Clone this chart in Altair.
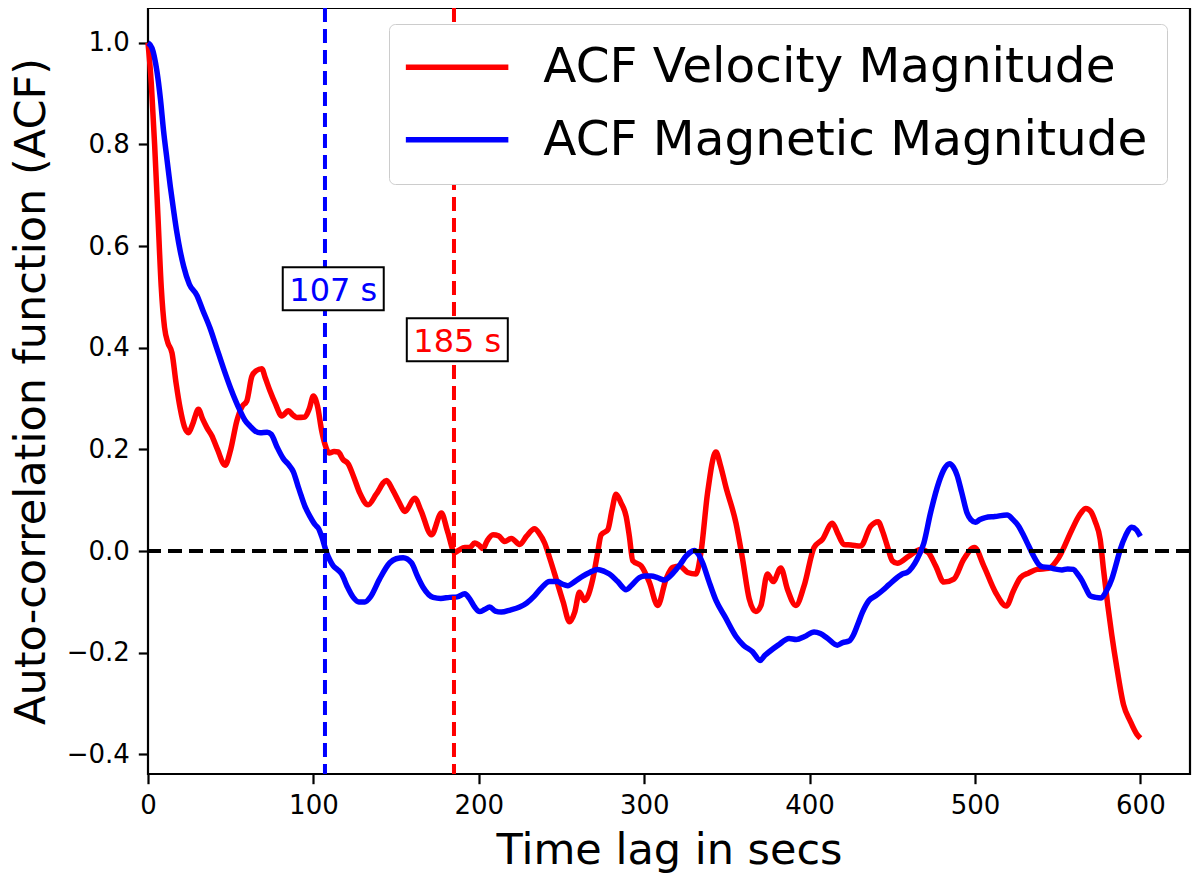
import altair as alt
import pandas as pd

# ---------------- data ----------------
series_names = ["ACF Velocity Magnitude", "ACF Magnetic Magnitude"]
series_colors = ["red", "blue"]

vel_x = [0, 2, 4, 6, 8, 10, 12, 14.5, 17, 19.5, 22, 24.5, 27, 30.5, 33, 35.6, 38.6, 42, 46.6, 50,
         53.7, 57, 59.7, 62.8, 65.5, 68.8, 71, 73.8, 77, 80.9, 84.9, 87.5, 89.9, 94.9, 97.5, 100,
         102.5, 105, 107, 109.6, 112.5, 115, 118, 121, 124.5, 128.1, 133.1, 138, 144.2, 148, 152,
         155.3, 161.3, 165, 171.4, 177.4, 181, 185.5, 188, 191.5, 194.5, 197.5, 200, 202.5, 205,
         208.6, 212, 215.6, 219.7, 224.7, 229, 233.7, 236.5, 239.8, 243, 246.8, 251, 254.9, 258,
         260.9, 263.9, 268.9, 271.5, 274, 278, 280.5, 283, 286, 289.1, 291, 293.1, 298.1, 303.1,
         308.2, 313.2, 317.2, 321.5, 326.3, 331.3, 334.3, 338.3, 343.4, 346, 349.4, 355.5, 359.5,
         363.5, 367.5, 370.6, 374.5, 378, 382.6, 386.6, 391.7, 396.7, 402.7, 407.7, 413.8, 417,
         420.8, 425, 430.9, 436.9, 441.5, 444, 447, 450, 453, 460, 467.1, 471.5, 476.2, 481.2,
         487.2, 493.2, 499.7, 505.3, 512.4, 519, 523, 527.5, 532.5, 537.5, 544.5, 550.6, 558.6,
         563, 567, 570, 572.7, 575.7, 577.7, 580.3, 582.7, 585.8, 589.8, 593.8, 597.8, 600]
vel_y = [1.0, 0.92, 0.80, 0.66, 0.52, 0.44, 0.41, 0.39, 0.33, 0.28, 0.245, 0.233, 0.25, 0.279,
         0.26, 0.243, 0.227, 0.2, 0.169, 0.2, 0.256, 0.285, 0.295, 0.344, 0.355, 0.359, 0.34, 0.315,
         0.29, 0.266, 0.276, 0.268, 0.263, 0.264, 0.28, 0.305, 0.285, 0.237, 0.21, 0.193, 0.196,
         0.195, 0.18, 0.172, 0.145, 0.114, 0.091, 0.112, 0.139, 0.12, 0.095, 0.078, 0.104, 0.08,
         0.032, 0.075, 0.04, -0.003, 0.002, 0.007, 0.007, 0.016, 0.012, 0.005, 0.02, 0.032, 0.03,
         0.019, 0.025, 0.013, 0.03, 0.044, 0.035, 0.016, -0.015, -0.055, -0.1, -0.139, -0.12,
         -0.081, -0.097, -0.055, -0.01, 0.032, 0.042, 0.08, 0.112, 0.095, 0.068, 0.03, -0.019,
         -0.029, -0.061, -0.107, -0.055, -0.032, -0.03, -0.042, -0.045, -0.003, 0.114, 0.195, 0.17,
         0.126, 0.055, -0.016, -0.094, -0.119, -0.107, -0.045, -0.06, -0.033, -0.075, -0.107,
         -0.068, 0.007, 0.023, 0.055, 0.035, 0.013, 0.012, 0.010, 0.049, 0.058, 0.04, 0.01, -0.019,
         -0.024, -0.010, 0.003, -0.002, -0.029, -0.061, -0.055, -0.016, 0.007, -0.029, -0.081,
         -0.108, -0.08, -0.052, -0.043, -0.036, -0.034, -0.013, 0.042, 0.07, 0.084, 0.078, 0.058,
         0.023, -0.036, -0.107, -0.165, -0.230, -0.302, -0.334, -0.360, -0.368]

mag_x = [0, 2.4, 5.4, 7.5, 9.4, 11.5, 13.5, 15.5, 17.5, 19.5, 21.5, 25, 29.6, 33, 37.6, 41.5, 45.6,
         50, 55.7, 58.5, 61.7, 64.5, 67.8, 72, 74.5, 78, 81.8, 85, 87.9, 90.5, 92.5, 94.9, 98, 101,
         103, 105, 108, 110, 112, 114.5, 117.1, 120.5, 124.1, 127.5, 131.1, 134.5, 140, 146.2, 150,
         154.3, 159.3, 163, 166.3, 172.4, 177, 182.4, 187, 191.5, 194.5, 197.5, 200.5, 203.5, 206.6,
         210, 213.6, 219, 224.7, 229, 233.7, 238, 242.8, 247.5, 250.5, 253.8, 258, 262.9, 267,
         271.9, 276, 279, 284, 289.1, 293, 297.1, 300.5, 304.2, 308, 312.2, 315.5, 319.3, 322,
         325.3, 328, 330.3, 332.5, 335.3, 339, 343.4, 349, 355.5, 360, 365.5, 370.1, 373, 375.6,
         381, 387.6, 392, 397, 402.7, 406.5, 411, 416.8, 420, 423.8, 426.5, 428.9, 432, 435.9, 440,
         443.9, 448, 453, 456, 459, 462, 465, 469.1, 473.1, 478.2, 481.5, 484.6, 487, 489.2, 492,
         495.2, 497.5, 500.3, 503, 506.3, 512, 519.4, 523, 526.4, 529.5, 532.5, 535.5, 538.5, 541,
         544.5, 548, 552.6, 556, 559.6, 562, 564.7, 567, 569.7, 573, 576.3, 579.5, 582.7, 585,
         587.8, 591, 594.8, 597.5, 600]
mag_y = [1.0, 0.99, 0.944, 0.89, 0.827, 0.77, 0.717, 0.67, 0.626, 0.59, 0.561, 0.525, 0.503, 0.475,
         0.438, 0.4, 0.360, 0.32, 0.276, 0.258, 0.246, 0.237, 0.233, 0.234, 0.23, 0.205, 0.182,
         0.17, 0.156, 0.13, 0.11, 0.088, 0.068, 0.052, 0.045, 0.029, -0.003, -0.018, -0.029, -0.036,
         -0.045, -0.07, -0.091, -0.1, -0.100, -0.09, -0.055, -0.023, -0.015, -0.013, -0.023, -0.05,
         -0.071, -0.091, -0.093, -0.091, -0.09, -0.084, -0.094, -0.11, -0.119, -0.115, -0.110,
         -0.118, -0.120, -0.116, -0.110, -0.102, -0.088, -0.072, -0.060, -0.06, -0.065, -0.068,
         -0.06, -0.049, -0.042, -0.036, -0.04, -0.045, -0.06, -0.076, -0.065, -0.052, -0.049,
         -0.049, -0.052, -0.057, -0.05, -0.036, -0.025, -0.010, -0.002, 0.001, -0.005, -0.023,
         -0.058, -0.097, -0.13, -0.168, -0.185, -0.198, -0.215, -0.205, -0.198, -0.185, -0.172,
         -0.174, -0.168, -0.159, -0.162, -0.172, -0.185, -0.18, -0.177, -0.165, -0.146, -0.12,
         -0.097, -0.088, -0.078, -0.066, -0.052, -0.045, -0.042, -0.032, -0.016, 0.016, 0.075,
         0.136, 0.162, 0.172, 0.165, 0.149, 0.115, 0.075, 0.062, 0.057, 0.062, 0.066, 0.068, 0.071,
         0.062, 0.049, 0.03, 0.010, -0.01, -0.026, -0.031, -0.032, -0.035, -0.037, -0.035, -0.036,
         -0.045, -0.058, -0.073, -0.088, -0.091, -0.092, -0.078, -0.055, -0.03, 0.003, 0.03, 0.047,
         0.042, 0.029]

vline_x = [107, 185]
vline_colors = ["blue", "red"]
label_x = [112, 187]
label_y = [0.516, 0.416]
label_text = ["107 s", "185 s"]
label_colors = ["blue", "red"]
zero_line = [0.0]

x_ticks = [0, 100, 200, 300, 400, 500, 600]
y_ticks = [-0.4, -0.2, 0.0, 0.2, 0.4, 0.6, 0.8, 1.0]
x_domain = [0, 630]
y_domain = [-0.4385, 1.0685]

# ---------------- tables ----------------
df = pd.concat([
    pd.DataFrame({"lag": vel_x, "acf": vel_y, "series": series_names[0]}),
    pd.DataFrame({"lag": mag_x, "acf": mag_y, "series": series_names[1]}),
], ignore_index=True)
vl = pd.DataFrame({"lag": vline_x, "c": vline_colors})
hl = pd.DataFrame({"acf": zero_line})
ann = pd.DataFrame({"lag": label_x, "acf": label_y, "text": label_text, "c": label_colors})

FONT = "DejaVu Sans"
xscale = alt.Scale(domain=x_domain, nice=False, zero=False)
yscale = alt.Scale(domain=y_domain, nice=False, zero=False)

W, H = 1042, 766

# legend symbol: a long horizontal stroke drawn as a custom path (unit = sqrt(size)/2 = 20 px)
LEGEND_LINE = "M-2.5625,0L2.5625,0"

lines = alt.Chart(df).mark_line(strokeWidth=5.5, interpolate="monotone", strokeJoin="round").encode(
    x=alt.X("lag:Q", scale=xscale,
            axis=alt.Axis(values=x_ticks, format="d", title="Time lag in secs",
                          titleY=89, titleBaseline="alphabetic", labelFlush=False)),
    y=alt.Y("acf:Q", scale=yscale,
            axis=alt.Axis(values=y_ticks, format=".1f", title="Auto-correlation function (ACF)",
                          titleX=-104, titleY=H / 2, titleAngle=270,
                          titleBaseline="alphabetic", titleAlign="center", labelFlush=False)),
    color=alt.Color("series:N",
                    scale=alt.Scale(domain=series_names, range=series_colors),
                    legend=alt.Legend(title=None, orient="none", legendX=241, legendY=16,
                                      symbolType=LEGEND_LINE, symbolSize=1600,
                                      symbolStrokeWidth=5.5, symbolOffset=24.85,
                                      labelFontSize=48.5, labelFont=FONT, labelColor="black",
                                      labelOffset=62, labelLimit=1000, rowPadding=23.6,
                                      padding=19, fillColor="white", strokeColor="#cccccc",
                                      cornerRadius=6)),
)

hrule = alt.Chart(hl).mark_rule(strokeWidth=4, strokeDash=[14, 7], color="black").encode(
    y=alt.Y("acf:Q", scale=yscale)
)

vrules = alt.Chart(vl).mark_rule(strokeWidth=4, strokeDash=[14, 7]).encode(
    x=alt.X("lag:Q", scale=xscale),
    stroke=alt.Stroke("c:N", scale=None),
)

boxes = alt.Chart(ann).mark_point(
    shape="M-1,-0.426L1,-0.426L1,0.426L-1,0.426Z", size=10200, filled=True,
    fill="white", stroke="black", strokeWidth=2, opacity=1,
).encode(
    x=alt.X("lag:Q", scale=xscale),
    y=alt.Y("acf:Q", scale=yscale),
)

texts = alt.Chart(ann).mark_text(fontSize=32, font=FONT, dy=2).encode(
    x=alt.X("lag:Q", scale=xscale),
    y=alt.Y("acf:Q", scale=yscale),
    text="text:N",
    fill=alt.Fill("c:N", scale=None),
)

chart = alt.layer(lines, hrule, vrules, boxes, texts).properties(
    width=W, height=H,
    padding={"left": 140, "top": 0, "right": 2, "bottom": 100},
    autosize=alt.AutoSizeParams(type="none"),
    background="white",
).configure_view(
    stroke="black", strokeWidth=2.2
).configure_axis(
    grid=False, domain=False, tickColor="black", tickWidth=2.2, tickSize=9.7,
    labelFontSize=26, labelFont=FONT, labelColor="black", labelPadding=9,
    titleFontSize=43, titleFont=FONT, titleFontWeight="normal", titleColor="black",
)

chart.save("out.html", embed_options={"renderer": "svg", "actions": False})
